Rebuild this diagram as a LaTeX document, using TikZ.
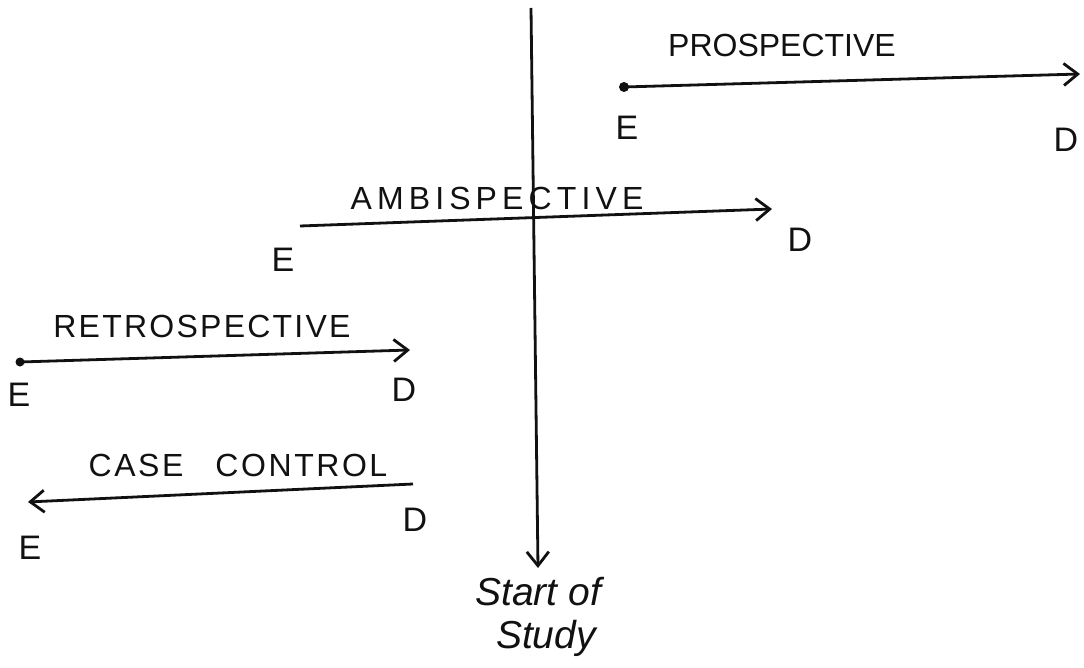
\documentclass[tikz,border=0pt]{standalone}
\usepackage{fontspec}
\setmainfont{Liberation Sans}
\usepackage{xcolor}
\usetikzlibrary{arrows.meta}
\definecolor{ink}{HTML}{111111}
\definecolor{paper}{HTML}{ffffff}

\tikzset{
  timeline/.style={ink,line width=2.8pt,-{Straight Barb[length=14pt,width=22pt,line width=2.8pt]}},
  studylabel/.style={ink,font=\fontsize{32}{36}\selectfont},
  endlabel/.style={ink,font=\fontsize{34}{38}\selectfont}
}

\begin{document}
\begin{tikzpicture}[x=1pt,y=-1pt]
  \fill[paper] (0,0) rectangle (1084,668);
  \useasboundingbox (0,0) rectangle (1084,668);

  % The start of study axis
  \coordinate (top) at (531,8);
  \coordinate (bottom) at (538,568);
  \draw[timeline] (top) -- (bottom);
  \node[ink,font=\fontsize{39}{44}\selectfont\itshape] (start) at (538,592) {Start of};
  \node[ink,font=\fontsize{39}{44}\selectfont\itshape] (study) at (546,638) {Study};

  % Prospective
  \coordinate (proE) at (624,87);
  \coordinate (proD) at (1080,74);
  \draw[timeline] (proE) -- (proD);
  \fill[ink] (proE) circle (5);
  \node[studylabel] (pro) at (782,45) {PROSPECTIVE};
  \node[endlabel] (proEl) at (627,128) {E};
  \node[endlabel] (proDl) at (1066,140) {D};

  % Ambispective
  \coordinate (ambE) at (300,226);
  \coordinate (ambD) at (772,209);
  \draw[timeline] (ambE) -- (ambD);
  \node[studylabel] (amb) at (497,198) {\addfontfeature{LetterSpace=16}AMBISPECTIVE};
  \node[endlabel] (ambEl) at (283,260) {E};
  \node[endlabel] (ambDl) at (800,240) {D};

  % Retrospective
  \coordinate (retE) at (20,362);
  \coordinate (retD) at (410,350);
  \draw[timeline] (retE) -- (retD);
  \fill[ink] (retE) circle (4.5);
  \node[studylabel] (ret) at (202,326) {\addfontfeature{LetterSpace=7}RETROSPECTIVE};
  \node[endlabel] (retEl) at (19,395) {E};
  \node[endlabel] (retDl) at (404,390) {D};

  % Case control
  \coordinate (casD) at (413,484);
  \coordinate (casE) at (28,502);
  \draw[timeline] (casD) -- (casE);
  \node[studylabel] (cas) at (238,465) {\addfontfeature{LetterSpace=8}CASE\quad CONTROL};
  \node[endlabel] (casEl) at (30,548) {E};
  \node[endlabel] (casDl) at (415,520) {D};
\end{tikzpicture}
\end{document}
